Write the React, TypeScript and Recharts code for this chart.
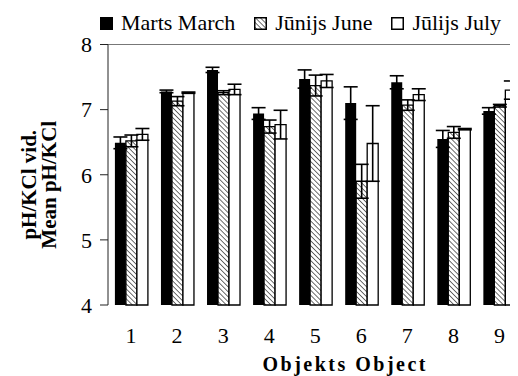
import React from "react";
import {
  BarChart, Bar, XAxis, YAxis, ErrorBar, Legend, ReferenceLine,
} from "recharts";

const CATEGORIES = ["1", "2", "3", "4", "5", "6", "7", "8", "9"];

const MARCH = [6.49, 7.28, 7.61, 6.94, 7.47, 7.10, 7.42, 6.55, 6.98];
const MARCH_ERR = [0.09, 0.02, 0.04, 0.09, 0.14, 0.25, 0.10, 0.13, 0.05];
const JUNE = [6.52, 7.13, 7.26, 6.74, 7.37, 5.90, 7.07, 6.65, 7.06];
const JUNE_ERR = [0.09, 0.07, 0.03, 0.10, 0.16, 0.26, 0.08, 0.09, 0.02];
const JULY = [6.62, 7.26, 7.31, 6.77, 7.44, 6.48, 7.23, 6.70, 7.30];
const JULY_ERR = [0.09, 0.01, 0.08, 0.22, 0.10, 0.58, 0.09, 0.01, 0.14];

const Y_TICKS = [4, 5, 6, 7, 8];
// category boundaries for the small tick marks under the axis
const EDGE_TICKS = [0.5, 1.5, 2.5, 3.5, 4.5, 5.5, 6.5, 7.5, 8.5, 9.5];

const SERIES = [
  { key: "march", err: "marchErr", label: "Marts March", fill: "#000", icon: "solid" },
  { key: "june", err: "juneErr", label: "Jūnijs June", fill: "url(#hatch)", icon: "hatch" },
  { key: "july", err: "julyErr", label: "Jūlijs July", fill: "#fff", icon: "empty" },
];

const data = CATEGORIES.map((c, i) => ({
  name: c,
  march: MARCH[i], marchErr: MARCH_ERR[i],
  june: JUNE[i], juneErr: JUNE_ERR[i],
  july: JULY[i], julyErr: JULY_ERR[i],
}));

const FONT = '"Liberation Serif", "Times New Roman", serif';

function LegendIcon({ kind }: { kind: string }) {
  return (
    <svg width={13} height={13} style={{ display: "block" }}>
      <defs>
        <pattern id="hatchIcon" width={3.5} height={3.5} patternUnits="userSpaceOnUse" patternTransform="rotate(-45)">
          <rect width={3.5} height={3.5} fill="#fff" />
          <line x1={0} y1={0} x2={0} y2={3.5} stroke="#222" strokeWidth={1.3} />
        </pattern>
      </defs>
      <rect x={0.75} y={0.75} width={11.5} height={11.5}
        fill={kind === "solid" ? "#000" : kind === "hatch" ? "url(#hatchIcon)" : "#fff"}
        stroke="#000" strokeWidth={1.5} />
    </svg>
  );
}

const renderLegend = () => (
  <div style={{ display: "flex", alignItems: "center", height: 30, paddingLeft: 92, fontFamily: FONT, fontSize: 22, color: "#000" }}>
    {SERIES.map(s => (
      <div key={s.key} style={{ display: "flex", alignItems: "center", marginRight: 19 }}>
        <LegendIcon kind={s.icon} />
        <span style={{ marginLeft: 8, whiteSpace: "nowrap" }}>{s.label}</span>
      </div>
    ))}
  </div>
);

const YTitle = ({ viewBox }: any) => {
  const cy = viewBox.y + viewBox.height / 2 + 10;
  return (
    <g fontFamily={FONT} fontSize={21} fontWeight="bold" fill="#000">
      <text x={21} y={cy} textAnchor="middle" dominantBaseline="central" transform={`rotate(-90, 21, ${cy})`}>
        pH/KCl vid.
      </text>
      <text x={41} y={cy} textAnchor="middle" dominantBaseline="central" transform={`rotate(-90, 41, ${cy})`}>
        Mean pH/KCl
      </text>
    </g>
  );
};

const XTitle = ({ viewBox }: any) => (
  <text
    x={viewBox.x + viewBox.width / 2 + 30}
    y={viewBox.y + viewBox.height - 5}
    textAnchor="middle"
    fontFamily={FONT}
    fontSize={20}
    fontWeight="bold"
    letterSpacing={2.5}
    fill="#000"
  >
    Objekts Object
  </text>
);

export default function App() {
  return (
    <div style={{ width: 510, height: 368, overflow: "hidden" }}>
      <BarChart
        width={520}
        height={368}
        data={data}
        margin={{ top: 6.5, right: 5.5, left: 0, bottom: 0 }}
        barCategoryGap="15%"
        barGap={0}
      >
        <defs>
          <pattern id="hatch" width={3.5} height={3.5} patternUnits="userSpaceOnUse" patternTransform="rotate(-45)">
            <rect width={3.5} height={3.5} fill="#fff" />
            <line x1={0} y1={0} x2={0} y2={3.5} stroke="#222" strokeWidth={1.3} />
          </pattern>
        </defs>
        <Legend verticalAlign="top" height={30} content={renderLegend} wrapperStyle={{ top: 0, left: 0 }} />
        <XAxis
          xAxisId="edges"
          type="number"
          domain={[0.5, 9.5]}
          ticks={EDGE_TICKS}
          tick={false}
          height={0}
          tickSize={7}
          stroke="#222"
          tickLine={{ stroke: "#222", strokeWidth: 1 }}
        />
        <XAxis
          dataKey="name"
          height={71}
          axisLine={false}
          tickLine={false}
          tickSize={0}
          tickMargin={22}
          interval={0}
          tick={{ fill: "#000", fontSize: 22, fontFamily: FONT }}
          label={<XTitle />}
        />
        <YAxis
          width={100}
          domain={[4, 8]}
          ticks={Y_TICKS}
          interval={0}
          tickSize={8}
          tickMargin={8}
          stroke="#222"
          tick={{ fill: "#000", fontSize: 22, fontFamily: FONT }}
          label={<YTitle />}
        />
        <ReferenceLine y={8} stroke="#777" strokeWidth={1} />
        {SERIES.map(s => (
          <Bar
            key={s.key}
            dataKey={s.key}
            fill={s.fill}
            stroke="#000"
            strokeWidth={s.key === "march" ? 0 : 1.3}
            isAnimationActive={false}
          >
            <ErrorBar dataKey={s.err} width={7} stroke="#000" strokeWidth={1.6} isAnimationActive={false} />
          </Bar>
        ))}
      </BarChart>
    </div>
  );
}
